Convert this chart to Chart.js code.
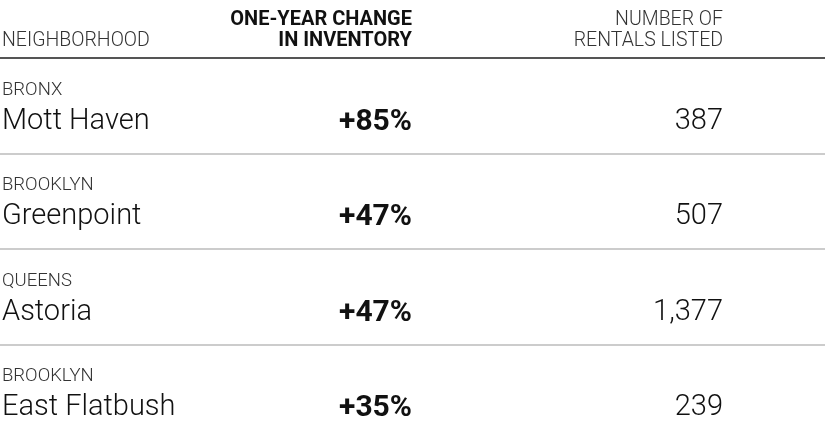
<!DOCTYPE html>
<html>
<head>
<meta charset="utf-8">
<title>Rental inventory by neighborhood</title>
<script src="https://cdn.jsdelivr.net/npm/chart.js@4.4.1/dist/chart.umd.min.js"></script>
<style>
	html, body { margin : 0; padding : 0; background : #fff; overflow : hidden; }
	#wrap { width : 825px; height : 440px; }
</style>
</head>
<body>
<div id="wrap"><canvas id="table-chartcanvas" width="825" height="440"></canvas></div>
<script>
"use strict";

// table data
var boroughs = ["BRONX", "BROOKLYN", "QUEENS", "BROOKLYN"];
var neighborhoods = ["Mott Haven", "Greenpoint", "Astoria", "East Flatbush"];
var inventoryChange = [85, 47, 47, 35];
var rentalsListed = [387, 507, 1377, 239];

// column headers, one array per line
var headNeighborhood = ["", "NEIGHBORHOOD"];
var headChange = ["ONE-YEAR CHANGE", "IN INVENTORY"];
var headRentals = ["NUMBER OF", "RENTALS LISTED"];

// small loop helper
function $each(list, fn) {
	for (var i = 0; i < list.length; i++) {
		fn(i, list[i]);
	}
}

/*
 *	text plugin: writes the cells on the rows of the y scale
 */
var tableText = {
	id : "tableText",
	afterDraw : function(chart) {
		var ctx = chart.ctx;
		var yScale = chart.scales.y;
		var area = chart.chartArea;
		// column anchors
		var colName = 2;
		var colChange = 412;
		var colRentals = 723;

		ctx.save();
		ctx.textBaseline = "alphabetic";

		// header
		ctx.fillStyle = "#333";
		ctx.font = "300 19.5px Roboto";
		ctx.textAlign = "left";
		ctx.fillText(headNeighborhood[1], colName, area.top - 12);

		ctx.textAlign = "right";
		ctx.fillText(headRentals[0], colRentals, area.top - 33);
		ctx.fillText(headRentals[1], colRentals, area.top - 12);

		ctx.fillStyle = "#111";
		ctx.font = "700 20px Roboto";
		ctx.fillText(headChange[0], colChange, area.top - 33);
		ctx.fillText(headChange[1], colChange, area.top - 12);

		// rows
		$each(neighborhoods, function(i, name) {
			var c = yScale.getPixelForValue(i);

			ctx.textAlign = "left";
			ctx.fillStyle = "#333";
			ctx.font = "300 18.5px Roboto";
			ctx.fillText(boroughs[i], colName, c - 11);

			ctx.fillStyle = "#111";
			ctx.font = "300 29px Roboto";
			ctx.fillText(name, colName, c + 23);

			ctx.textAlign = "right";
			ctx.font = "700 30px Roboto";
			ctx.fillText("+" + inventoryChange[i] + "%", colChange, c + 24);

			ctx.font = "300 29px Roboto";
			ctx.fillText(rentalsListed[i].toLocaleString("en-US"), colRentals, c + 23);
		});

		ctx.restore();
	}
};

//get canvas
var tableCtx = document.getElementById("table-chartcanvas");

// create chart
var tableChart = new Chart(tableCtx, {
	type : "bar",
	data : {
		labels : neighborhoods,
		datasets : []
	},
	options : {
		indexAxis : "y",
		responsive : false,
		animation : false,
		devicePixelRatio : 1,
		layout : {
			padding : { top : 58, left : 0, right : 0, bottom : 0 }
		},
		plugins : {
			legend : { display : false },
			tooltip : { enabled : false },
			title : { display : false }
		},
		scales : {
			x : {
				display : false,
				min : 0,
				max : 1
			},
			y : {
				type : "category",
				offset : true,
				ticks : { display : false },
				border : { display : false },
				grid : {
					offset : true,
					drawTicks : false,
					lineWidth : 2,
					color : function(c) {
						return c.index === 0 ? "#555" : "#ccc";
					}
				}
			}
		}
	},
	plugins : [tableText]
});
</script>
</body>
</html>
